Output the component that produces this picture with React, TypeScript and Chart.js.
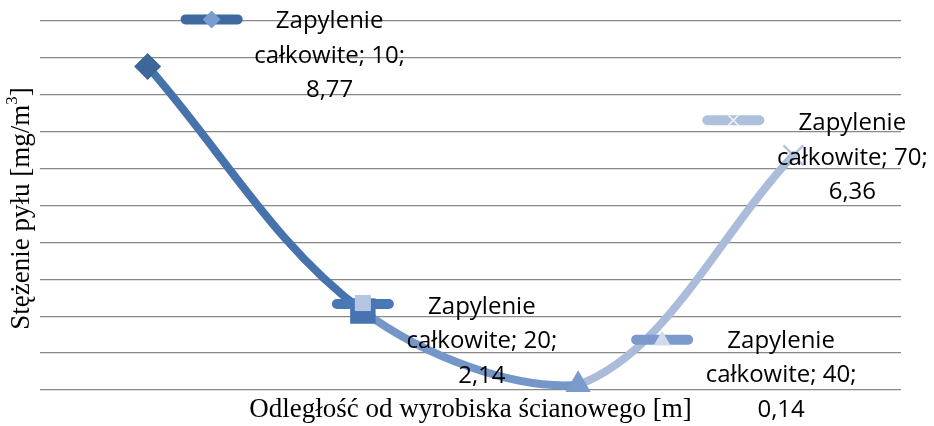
import { useEffect, useRef } from 'react';
import { Chart, registerables } from 'chart.js';

Chart.register(...registerables);

// ---- data ----
const categories = ['10', '20', '40', '70'];
const values = [8.77, 2.14, 0.14, 6.36];
const valueLabels = ['8,77', '2,14', '0,14', '6,36'];
const seriesName = 'Zapylenie całkowite';
const yMin = 0;
const yMax = 10;
const yStep = 1;
const yTitleMain = 'Stężenie pyłu [mg/m';
const yTitleSup = '3';
const yTitleEnd = ']';
const xTitle = 'Odległość od wyrobiska ścianowego [m]';

// ---- styles ----
const segmentColors = ['#4673AB', '#7596C9', '#AABCDA'];
const pointColors = ['#3D6699', '#4774B0', '#7A9ACB', '#B4C4DE'];
const pointStyles = ['rectRot', 'rect', 'triangle', 'crossRot'];
const pointRadii = [13.5, 18, 14.5, 14];
const keyLineColors = ['#3E6AA0', '#4A78B5', '#7B9ACB', '#AFC0DB'];
const keyMarkerColors = ['#7A9CD0', '#B4C5E2', '#D3DAEA', '#F2F5FA'];
// offsets relative to the point: key centre (kx, ky), text centre / first line centre (tx, ty)
const labelOffsets = [
  { kx: 64, ky: -47, tx: 182, ty: -45 },
  { kx: 0, ky: -7, tx: 119, ty: -4 },
  { kx: 84, ky: -45, tx: 203, ty: -44 },
  { kx: -60, ky: -35, tx: 59, ty: -32 },
];
const labelFont = '24px "Open Sans"';
const labelLineHeight = 34.5;
const titleFont = '27px "Liberation Serif"';
const supFont = '17px "Liberation Serif"';

function drawKeyMarker(ctx: CanvasRenderingContext2D, i: number, x: number, y: number) {
  ctx.save();
  ctx.fillStyle = keyMarkerColors[i];
  ctx.strokeStyle = keyMarkerColors[i];
  const style = pointStyles[i];
  ctx.beginPath();
  if (style === 'rectRot') {
    const r = 9;
    ctx.moveTo(x, y - r);
    ctx.lineTo(x + r, y);
    ctx.lineTo(x, y + r);
    ctx.lineTo(x - r, y);
    ctx.closePath();
    ctx.fill();
  } else if (style === 'rect') {
    const s = 16;
    ctx.fillRect(x - s / 2, y - s / 2 - 1, s, s);
  } else if (style === 'triangle') {
    const s = 17;
    const h = s * 0.866;
    ctx.moveTo(x, y - h * 0.62);
    ctx.lineTo(x + s / 2, y + h * 0.38);
    ctx.lineTo(x - s / 2, y + h * 0.38);
    ctx.closePath();
    ctx.fill();
  } else {
    const r = 6;
    ctx.lineWidth = 1.5;
    ctx.moveTo(x - r, y - r);
    ctx.lineTo(x + r, y + r);
    ctx.moveTo(x + r, y - r);
    ctx.lineTo(x - r, y + r);
    ctx.stroke();
  }
  ctx.restore();
}

const labelsPlugin = {
  id: 'customLabels',
  afterDatasetsDraw(chart: any) {
    const ctx: CanvasRenderingContext2D = chart.ctx;
    const meta = chart.getDatasetMeta(0);
    const nameParts = seriesName.split(' ');
    meta.data.forEach((pt: any, i: number) => {
      const o = labelOffsets[i];
      const kx = pt.x + o.kx;
      const ky = pt.y + o.ky;
      ctx.save();
      ctx.lineCap = 'round';
      ctx.lineWidth = 10;
      ctx.strokeStyle = keyLineColors[i];
      ctx.beginPath();
      ctx.moveTo(kx - 26, ky);
      ctx.lineTo(kx + 26, ky);
      ctx.stroke();
      ctx.restore();
      drawKeyMarker(ctx, i, kx, ky);

      const lines = [nameParts[0], `${nameParts[1]}; ${categories[i]};`, valueLabels[i]];
      ctx.save();
      ctx.font = labelFont;
      ctx.fillStyle = '#000000';
      ctx.textAlign = 'center';
      ctx.textBaseline = 'middle';
      lines.forEach((t, j) => {
        ctx.fillText(t, pt.x + o.tx, pt.y + o.ty + j * labelLineHeight);
      });
      ctx.restore();
    });
  },
  afterDraw(chart: any) {
    const ctx: CanvasRenderingContext2D = chart.ctx;
    const area = chart.chartArea;
    // x title
    ctx.save();
    ctx.font = titleFont;
    ctx.fillStyle = '#000000';
    ctx.textAlign = 'center';
    ctx.textBaseline = 'middle';
    ctx.fillText(xTitle, (area.left + area.right) / 2, 410);
    ctx.restore();
    // y title (rotated, with superscript)
    ctx.save();
    ctx.translate(22, (area.top + area.bottom) / 2 + 3);
    ctx.rotate(-Math.PI / 2);
    ctx.fillStyle = '#000000';
    ctx.textBaseline = 'middle';
    ctx.font = titleFont;
    const w1 = ctx.measureText(yTitleMain).width;
    const w3 = ctx.measureText(yTitleEnd).width;
    ctx.font = supFont;
    const w2 = ctx.measureText(yTitleSup).width;
    const total = w1 + w2 + w3;
    let cx = -total / 2;
    ctx.textAlign = 'left';
    ctx.font = titleFont;
    ctx.fillText(yTitleMain, cx, 0);
    cx += w1;
    ctx.font = supFont;
    ctx.fillText(yTitleSup, cx, -9);
    cx += w2;
    ctx.font = titleFont;
    ctx.fillText(yTitleEnd, cx, 0);
    ctx.restore();
  },
};

export default function App() {
  const canvasRef = useRef<HTMLCanvasElement | null>(null);

  useEffect(() => {
    if (!canvasRef.current) return;
    const chart = new Chart(canvasRef.current, {
      type: 'line',
      data: {
        labels: categories,
        datasets: [
          {
            label: seriesName,
            data: values,
            borderWidth: 8,
            borderColor: segmentColors[0],
            segment: {
              borderColor: (c: any) => segmentColors[c.p0DataIndex],
            },
            tension: 0.35,
            borderCapStyle: 'round',
            borderJoinStyle: 'round',
            pointStyle: pointStyles as any,
            pointRadius: pointRadii,
            pointBackgroundColor: pointColors,
            pointBorderColor: pointColors,
            pointBorderWidth: [0, 0, 0, 2.5],
            fill: false,
            clip: false as any,
          } as any,
        ],
      },
      options: {
        animation: false,
        responsive: false,
        maintainAspectRatio: false,
        layout: { padding: { left: 40, right: 33, top: 21, bottom: 36 } },
        plugins: {
          legend: { display: false },
          tooltip: { enabled: false },
          title: { display: false },
        },
        scales: {
          x: {
            type: 'category',
            offset: true,
            grid: { display: false, drawTicks: false },
            border: { display: false },
            ticks: { display: false },
          },
          y: {
            min: yMin,
            max: yMax,
            ticks: { display: false, stepSize: yStep },
            grid: { color: '#888888', lineWidth: 1.3, drawTicks: false },
            border: { display: false },
          },
        },
      },
      plugins: [labelsPlugin],
    });
    return () => chart.destroy();
  }, []);

  return (
    <div style={{ position: 'fixed', left: 0, top: 0, width: 934, height: 426, background: '#ffffff' }}>
      <canvas ref={canvasRef} width={934} height={426} style={{ width: 934, height: 426 }} />
    </div>
  );
}
